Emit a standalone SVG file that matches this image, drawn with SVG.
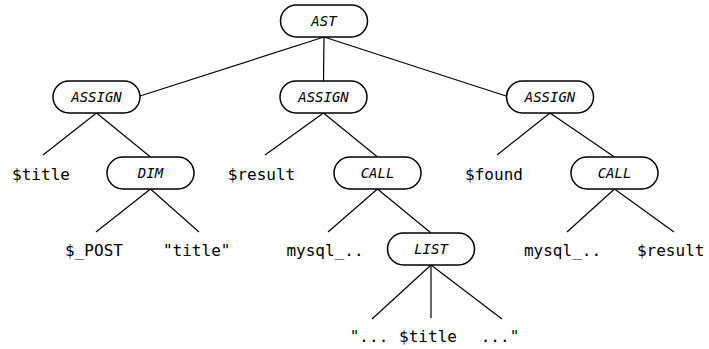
<svg xmlns="http://www.w3.org/2000/svg" width="709" height="349" viewBox="0 0 709 349">
<style>
.box{fill:#ffffff;stroke:#000;stroke-width:1.5}
.nl{font-family:"DejaVu Sans Mono","Liberation Mono",monospace;font-style:italic;font-size:14px;text-anchor:middle;fill:#000}
.lf{font-family:"DejaVu Sans Mono","Liberation Mono",monospace;font-size:16px;text-anchor:middle;fill:#000}
.edges line{stroke:#000;stroke-width:1.2}
</style>
<rect width="709" height="349" fill="#fff"/>
<g id="edges" class="edges">
<line x1="324" y1="37" x2="140" y2="96"/>
<line x1="324" y1="37" x2="323.5" y2="81"/>
<line x1="324" y1="37" x2="506" y2="96"/>
<line x1="96.5" y1="113" x2="43" y2="155"/>
<line x1="96.5" y1="113" x2="150.5" y2="157"/>
<line x1="323.5" y1="113" x2="265" y2="155"/>
<line x1="323.5" y1="113" x2="377.5" y2="157"/>
<line x1="550" y1="113" x2="497" y2="155"/>
<line x1="550" y1="113" x2="614.5" y2="157"/>
<line x1="150.5" y1="189" x2="96" y2="232"/>
<line x1="150.5" y1="189" x2="199" y2="232"/>
<line x1="377.5" y1="189" x2="328" y2="232"/>
<line x1="377.5" y1="189" x2="431" y2="233"/>
<line x1="614.5" y1="189" x2="567" y2="232"/>
<line x1="614.5" y1="189" x2="674" y2="232"/>
<line x1="431" y1="265" x2="372" y2="319"/>
<line x1="431" y1="265" x2="431" y2="318"/>
<line x1="431" y1="265" x2="502" y2="319"/>
</g>
<g id="n-ast"><rect class="box" x="280.5" y="5" width="87" height="32" rx="16"/><text class="nl" x="324" y="26">AST</text></g>
<g id="n-assign1"><rect class="box" x="53" y="81" width="87" height="32" rx="16"/><text class="nl" x="96.5" y="102">ASSIGN</text></g>
<g id="n-assign2"><rect class="box" x="280" y="81" width="87" height="32" rx="16"/><text class="nl" x="323.5" y="102">ASSIGN</text></g>
<g id="n-assign3"><rect class="box" x="506.5" y="81" width="87" height="32" rx="16"/><text class="nl" x="550" y="102">ASSIGN</text></g>
<g id="n-dim"><rect class="box" x="107" y="157" width="87" height="32" rx="16"/><text class="nl" x="150.5" y="178">DIM</text></g>
<g id="n-call1"><rect class="box" x="334" y="157" width="87" height="32" rx="16"/><text class="nl" x="377.5" y="178">CALL</text></g>
<g id="n-call2"><rect class="box" x="571" y="157" width="87" height="32" rx="16"/><text class="nl" x="614.5" y="178">CALL</text></g>
<g id="n-list"><rect class="box" x="387.5" y="233" width="87" height="32" rx="16"/><text class="nl" x="431" y="254">LIST</text></g>
<g id="l-title"><text class="lf" x="41" y="180">$title</text></g>
<g id="l-result1"><text class="lf" x="261.5" y="180">$result</text></g>
<g id="l-found"><text class="lf" x="494" y="180">$found</text></g>
<g id="l-post"><text class="lf" x="94" y="256">$_POST</text></g>
<g id="l-strtitle"><text class="lf" x="196.7" y="256">"title"</text></g>
<g id="l-mysql1"><text class="lf" x="325" y="256">mysql_..</text></g>
<g id="l-mysql2"><text class="lf" x="562.5" y="256">mysql_..</text></g>
<g id="l-result2"><text class="lf" x="670.7" y="256">$result</text></g>
<g id="l-s1"><text class="lf" x="369" y="342">"...</text></g>
<g id="l-s2"><text class="lf" x="428" y="342">$title</text></g>
<g id="l-s3"><text class="lf" x="500" y="342">..."</text></g>
</svg>
